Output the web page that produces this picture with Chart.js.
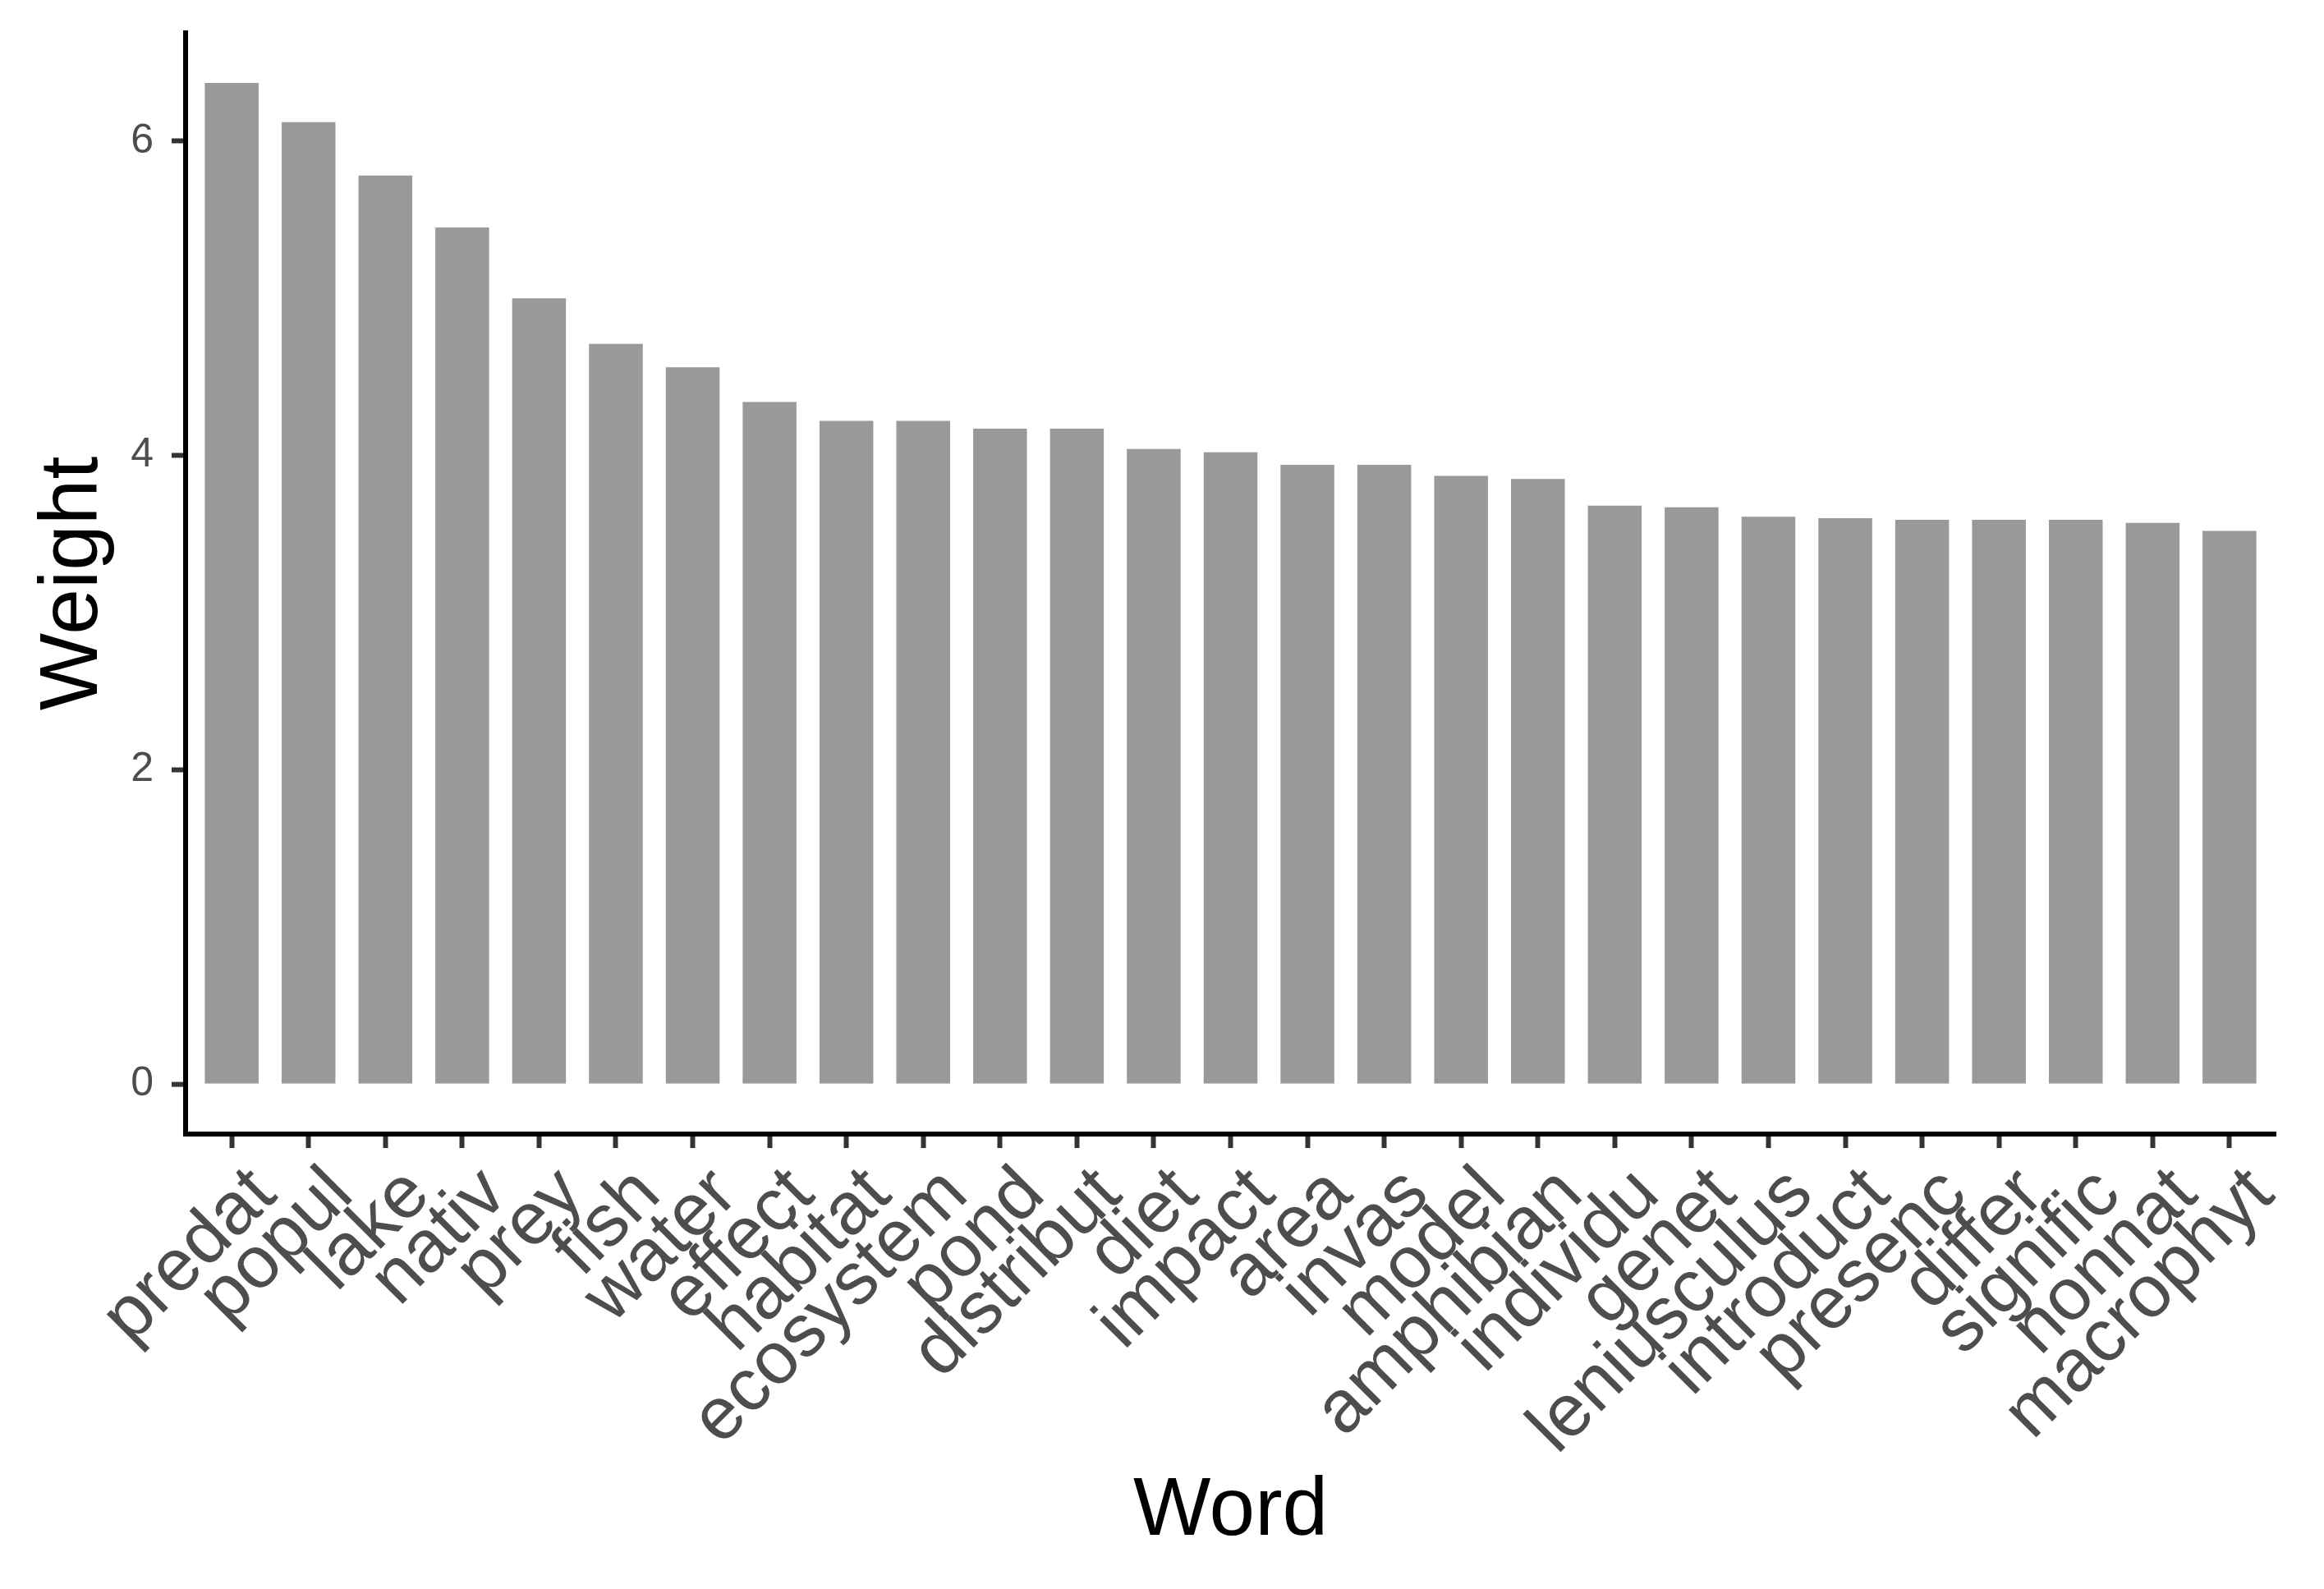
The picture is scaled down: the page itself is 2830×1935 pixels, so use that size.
<!DOCTYPE html>
<html>
<head>
<meta charset="utf-8">
<script src="https://cdn.jsdelivr.net/npm/chart.js@4"></script>
<style>
  html, body { margin: 0; padding: 0; background: #ffffff; }
  #wrap { width: 2830px; height: 1935px; }
</style>
</head>
<body>
<div id="wrap"><canvas id="WeightChart" width="2830" height="1935"></canvas></div>
<script>
const words = ['predat', 'popul', 'lake', 'nativ', 'prey', 'fish', 'water', 'effect', 'habitat',
    'ecosystem', 'pond', 'distribut', 'diet', 'impact', 'area', 'invas', 'model', 'amphibian',
    'individu', 'genet', 'leniusculus', 'introduct', 'presenc', 'differ', 'signific', 'nonnat', 'macrophyt'];

const weights = [6.37, 6.12, 5.78, 5.45, 5.00, 4.71, 4.56, 4.34, 4.22,
    4.22, 4.17, 4.17, 4.04, 4.02, 3.94, 3.94, 3.87, 3.85,
    3.68, 3.67, 3.61, 3.60, 3.59, 3.59, 3.59, 3.57, 3.52];

const yTicks = [0, 2, 4, 6];

const family = "'Liberation Sans', Arial, Helvetica, sans-serif";

// ggplot style padding around the data: 0.6 on each side of the discrete axis, 5% on y
const yMax = Math.max(...weights);

new Chart(document.getElementById("WeightChart"), {
    type: 'bar',
    data: {
        datasets: [
            {
                data: words.map((w, i) => ({x: i, y: weights[i]})),
                backgroundColor: '#999999',
                borderWidth: 0,
                barPercentage: 0.7,
                categoryPercentage: 1.0
            }
        ]
    },
    options: {
        responsive: false,
        animation: false,
        layout: {
            padding: {top: 40, right: 59, left: 0, bottom: 0}
        },
        plugins: {
            legend: {display: false},
            tooltip: {enabled: false}
        },
        scales: {
            x: {
                type: 'linear',
                offset: false,
                min: -0.6,
                max: words.length - 0.4,
                afterBuildTicks: axis => { axis.ticks = words.map((w, i) => ({value: i})) },
                afterFit: axis => {
                    axis.height = 554;
                    axis.paddingLeft = 0;
                    axis.paddingRight = 0;
                },
                ticks: {
                    callback: v => words[v],
                    autoSkip: false,
                    maxRotation: 45,
                    minRotation: 45,
                    color: '#4D4D4D',
                    font: {family: family, size: 90},
                    padding: 4,
                    labelOffset: 40
                },
                grid: {
                    offset: false,
                    drawOnChartArea: false,
                    tickLength: 17,
                    tickColor: '#333333',
                    tickWidth: 6
                },
                border: {display: true, color: '#000000', width: 6},
                title: {
                    display: true,
                    text: 'Word',
                    color: '#000000',
                    font: {family: family, size: 100},
                    padding: {top: 0, bottom: 34}
                }
            },
            y: {
                type: 'linear',
                min: -0.05 * yMax,
                max: yMax * 1.05,
                afterBuildTicks: axis => { axis.ticks = yTicks.map(v => ({value: v})) },
                afterFit: axis => {
                    axis.width = 226;
                    axis.paddingTop = 0;
                    axis.paddingBottom = 0;
                },
                ticks: {
                    color: '#4D4D4D',
                    font: {family: family, size: 50},
                    padding: 22
                },
                grid: {
                    drawOnChartArea: false,
                    tickLength: 17,
                    tickColor: '#333333',
                    tickWidth: 6
                },
                border: {display: true, color: '#000000', width: 6},
                title: {
                    display: true,
                    text: 'Weight',
                    color: '#000000',
                    font: {family: family, size: 100},
                    padding: {top: 30, bottom: 0}
                }
            }
        }
    }
});
</script>
</body>
</html>
